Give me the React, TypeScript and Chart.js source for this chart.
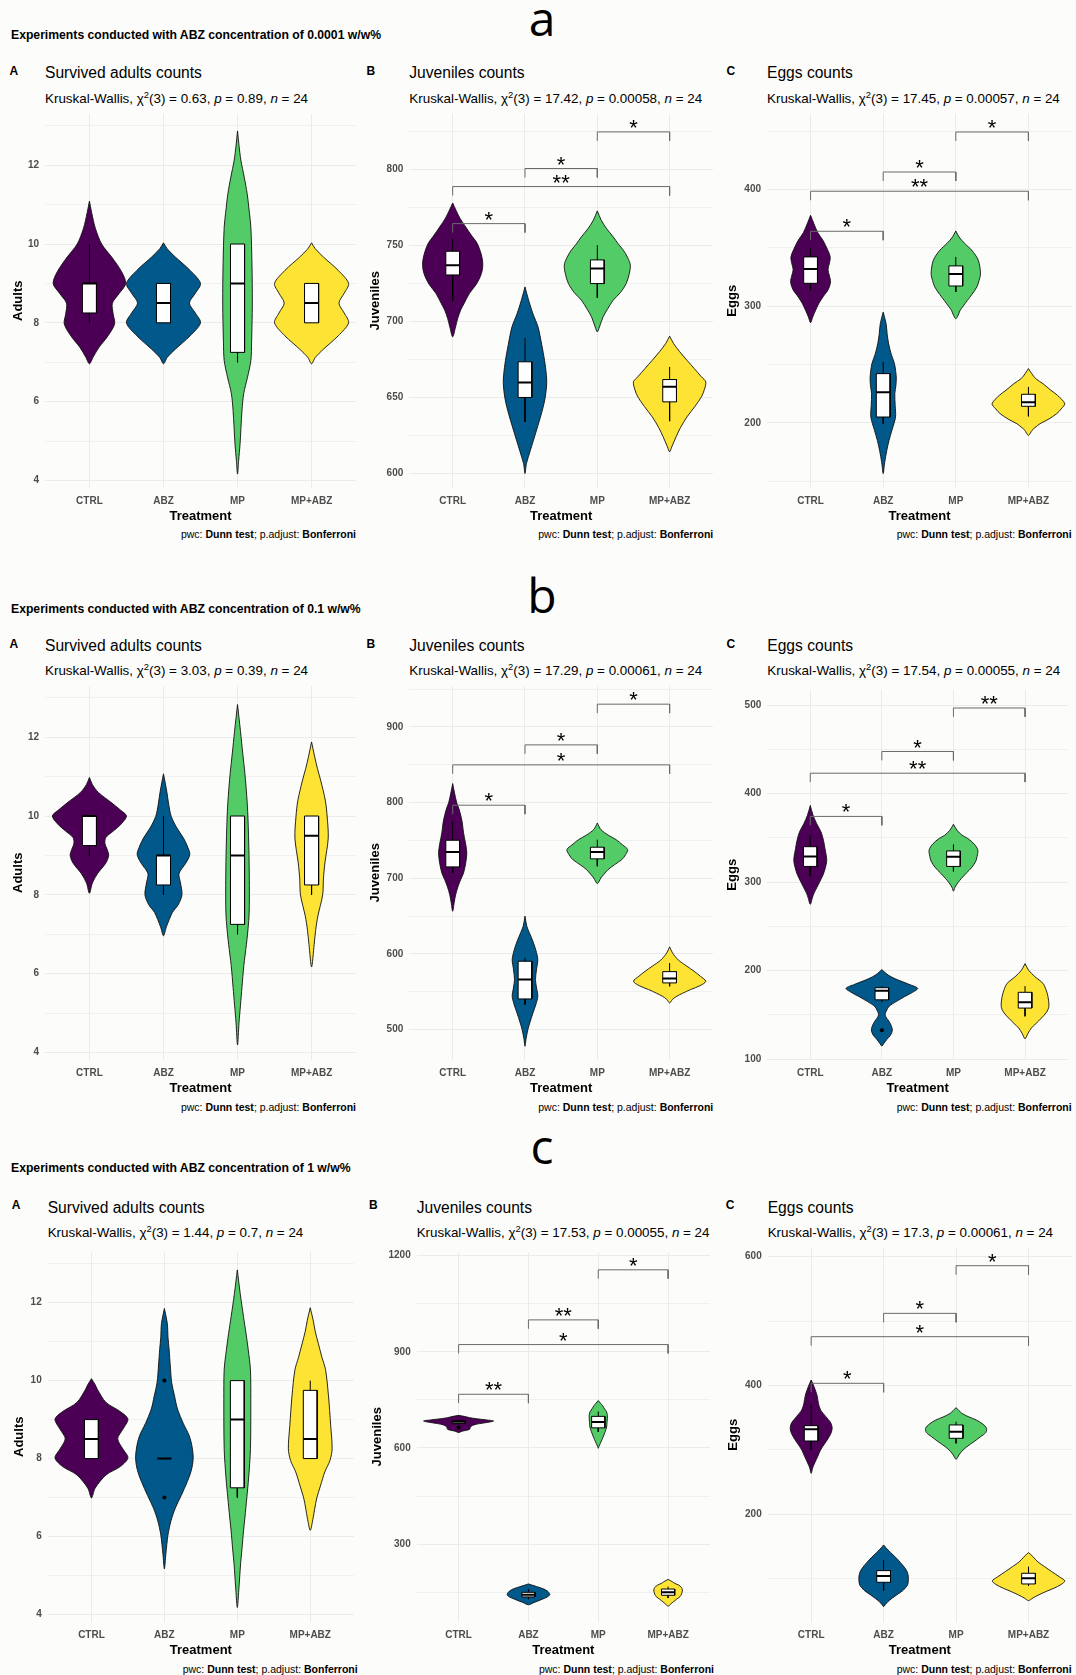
import React, { useEffect, useRef } from 'react';
import { Chart, registerables } from 'chart.js';

Chart.register(...registerables);
const SANS = "'Liberation Sans', Arial, Helvetica, sans-serif";
Chart.defaults.font.family = SANS;

// ---------------- data ----------------
const categories = ['CTRL', 'ABZ', 'MP', 'MP+ABZ'];
const groupColors = ['#4B0055', '#00588B', '#53CC67', '#FDE333'];
const concentrations = ['0.0001', '0.1', '1'];
const rowLetters = ['a', 'b', 'c'];
const panelLetters = ['A', 'B', 'C'];
const panelTitles = ['Survived adults counts', 'Juveniles counts', 'Eggs counts'];
const yTitles = ['Adults', 'Juveniles', 'Eggs'];
const kwChi = [['0.63', '17.42', '17.45'], ['3.03', '17.29', '17.54'], ['1.44', '17.53', '17.3']];
const kwP = [['0.89', '0.00058', '0.00057'], ['0.39', '0.00061', '0.00055'], ['0.7', '0.00055', '0.00061']];
const nTotal = 24;

// y tick values (major labelled, minor unlabelled)
const adultsMajor = [4, 6, 8, 10, 12];
const adultsMinor = [5, 7, 9, 11, 13];
const aJuvMajor = [600, 650, 700, 750, 800];
const aJuvMinor = [625, 675, 725, 775, 825];
const aEggMajor = [200, 300, 400];
const aEggMinor = [150, 250, 350, 450];
const bJuvMajor = [500, 600, 700, 800, 900];
const bJuvMinor = [550, 650, 750, 850, 950];
const bEggMajor = [100, 200, 300, 400, 500];
const bEggMinor = [150, 250, 350, 450];
const cJuvMajor = [300, 600, 900, 1200];
const cJuvMinor = [150, 450, 750, 1050];
const cEggMajor = [200, 400, 600];
const cEggMinor = [100, 300, 500];

// violin outlines: [value, half-width] from top tip to bottom tip, per group
const aAdultsViolins = [
  [[11.09, 0], [10.8, 0.03], [10.4, 0.08], [10.0, 0.165], [9.67, 0.3], [9.31, 0.43], [9.0, 0.49], [8.74, 0.4], [8.5, 0.31], [8.23, 0.32], [7.97, 0.34], [7.64, 0.24], [7.38, 0.13], [7.13, 0.05], [6.96, 0]],
  [[10.03, 0], [9.88, 0.05], [9.67, 0.16], [9.33, 0.36], [9.0, 0.5], [8.75, 0.43], [8.5, 0.35], [8.25, 0.43], [8.0, 0.5], [7.67, 0.36], [7.33, 0.16], [7.12, 0.05], [6.96, 0]],
  [[12.87, 0], [12.5, 0.02], [12.13, 0.045], [11.7, 0.09], [11.28, 0.13], [10.8, 0.16], [10.43, 0.18], [9.5, 0.195], [8.5, 0.2], [7.5, 0.19], [7.04, 0.18], [6.62, 0.135], [6.2, 0.083], [5.77, 0.06], [4.92, 0.034], [4.5, 0.015], [4.16, 0]],
  [[10.03, 0], [9.88, 0.05], [9.67, 0.16], [9.33, 0.36], [9.0, 0.5], [8.75, 0.44], [8.5, 0.37], [8.25, 0.44], [8.0, 0.5], [7.67, 0.36], [7.33, 0.16], [7.12, 0.05], [6.96, 0]],
];
const aJuvViolins = [
  [[778, 0], [773.2, 0.046], [768, 0.1], [762.2, 0.18], [756, 0.27], [751.3, 0.34], [745, 0.39], [739.2, 0.415], [734, 0.41], [729.3, 0.38], [724, 0.32], [718.3, 0.23], [712, 0.16], [707.4, 0.11], [702, 0.07], [696.4, 0.04], [689.8, 0]],
  [[722.7, 0], [714, 0.05], [705, 0.11], [696.4, 0.18], [685, 0.23], [674.4, 0.27], [665, 0.295], [659.1, 0.3], [650, 0.28], [641.5, 0.24], [628.4, 0.16], [615.2, 0.075], [606.4, 0.02], [599.8, 0]],
  [[772.8, 0], [766.6, 0.055], [761, 0.13], [755.7, 0.22], [751, 0.29], [746.9, 0.36], [742, 0.42], [737, 0.457], [731, 0.44], [725, 0.4], [719, 0.32], [714, 0.22], [708, 0.14], [703, 0.08], [696.4, 0.03], [693.1, 0]],
  [[690.3, 0], [685.4, 0.055], [680, 0.14], [674.4, 0.24], [669, 0.34], [663.5, 0.44], [660.2, 0.5], [655, 0.48], [650.3, 0.44], [644, 0.35], [637.1, 0.24], [630, 0.15], [624, 0.09], [617.4, 0.03], [614.1, 0]],
];
const aEggViolins = [
  [[378, 0], [370.9, 0.045], [363, 0.1], [356.6, 0.17], [349, 0.23], [342.3, 0.27], [337, 0.26], [331.4, 0.24], [326, 0.26], [320.9, 0.275], [314, 0.24], [308, 0.17], [302, 0.11], [296.6, 0.07], [290.9, 0.03], [286, 0]],
  [[295, 0], [285.1, 0.04], [276, 0.055], [268, 0.075], [259, 0.11], [250.9, 0.155], [239.4, 0.18], [232, 0.175], [225.1, 0.16], [215, 0.165], [205.1, 0.17], [193.7, 0.12], [185, 0.08], [176.6, 0.05], [166, 0.02], [156.6, 0]],
  [[364.6, 0], [359.4, 0.045], [354, 0.12], [348, 0.22], [339.4, 0.31], [328, 0.34], [322, 0.32], [316.6, 0.29], [310, 0.22], [305.1, 0.16], [300, 0.1], [296.6, 0.06], [292, 0.03], [289.4, 0]],
  [[246.6, 0], [242.3, 0.045], [238, 0.1], [233.7, 0.2], [228, 0.31], [223.7, 0.4], [216.6, 0.5], [212, 0.45], [208, 0.39], [203, 0.27], [199.4, 0.16], [196, 0.09], [193.7, 0.05], [189.4, 0]],
];
const bAdultsViolins = [
  [[10.98, 0], [10.8, 0.04], [10.6, 0.12], [10.35, 0.29], [10.15, 0.42], [10.0, 0.5], [9.8, 0.43], [9.63, 0.33], [9.45, 0.22], [9.3, 0.21], [9.15, 0.24], [9.0, 0.26], [8.8, 0.22], [8.54, 0.11], [8.3, 0.04], [8.04, 0]],
  [[11.07, 0], [10.62, 0.045], [10.3, 0.07], [9.99, 0.105], [9.7, 0.18], [9.44, 0.27], [9.2, 0.33], [9.02, 0.355], [8.8, 0.3], [8.54, 0.21], [8.3, 0.23], [8.0, 0.25], [7.75, 0.2], [7.55, 0.12], [7.19, 0.04], [6.96, 0]],
  [[12.83, 0], [12.15, 0.04], [11.6, 0.07], [11.07, 0.1], [10.5, 0.125], [10.0, 0.14], [9.0, 0.155], [8.0, 0.16], [7.46, 0.155], [7.0, 0.135], [6.74, 0.12], [6.2, 0.085], [5.65, 0.06], [5.2, 0.04], [4.75, 0.02], [4.19, 0]],
  [[11.88, 0], [11.52, 0.04], [11.2, 0.08], [10.89, 0.125], [10.4, 0.185], [10.0, 0.21], [9.44, 0.225], [8.81, 0.18], [8.4, 0.16], [8.0, 0.15], [7.46, 0.085], [7.1, 0.055], [6.74, 0.035], [6.17, 0]],
];
const bJuvViolins = [
  [[825.1, 0], [812.8, 0.025], [800, 0.055], [790.7, 0.09], [775, 0.13], [759.9, 0.15], [745, 0.18], [733.5, 0.195], [720, 0.18], [707, 0.15], [698, 0.11], [689.4, 0.075], [678, 0.04], [667.4, 0.02], [656.4, 0]],
  [[649.8, 0], [636.6, 0.025], [628, 0.06], [619, 0.1], [605, 0.15], [592.5, 0.177], [580, 0.16], [566.1, 0.145], [555, 0.16], [544.1, 0.177], [533, 0.15], [522, 0.11], [510, 0.07], [500, 0.04], [488, 0.015], [478, 0]],
  [[773, 0], [764.3, 0.05], [757, 0.15], [751, 0.26], [744, 0.35], [737.9, 0.42], [731, 0.39], [724.7, 0.34], [718, 0.24], [711.5, 0.15], [705, 0.09], [700.4, 0.05], [693, 0]],
  [[609.3, 0], [601.3, 0.04], [592, 0.12], [583.7, 0.24], [577, 0.34], [570.5, 0.425], [563.9, 0.5], [558, 0.42], [552.9, 0.29], [548, 0.18], [544.1, 0.1], [540, 0.04], [535.2, 0]],
];
const bEggViolins = [
  [[386.5, 0], [375.3, 0.04], [366, 0.09], [356.7, 0.15], [347, 0.185], [338.1, 0.205], [325.1, 0.23], [316, 0.21], [308.4, 0.18], [300, 0.13], [293.5, 0.09], [287, 0.05], [282.3, 0.03], [274.9, 0]],
  [[201.2, 0], [196.7, 0.06], [193, 0.13], [189.3, 0.23], [184.5, 0.38], [180, 0.5], [175.5, 0.43], [170.7, 0.32], [165, 0.2], [159.6, 0.1], [154, 0.06], [150.2, 0.045], [146, 0.07], [142.8, 0.1], [137, 0.135], [132.7, 0.147], [127, 0.12], [122.3, 0.07], [118, 0.03], [114.9, 0]],
  [[365.3, 0], [358.6, 0.05], [353, 0.12], [349.3, 0.2], [343, 0.29], [336.3, 0.34], [329, 0.33], [323.3, 0.31], [316, 0.25], [310.2, 0.18], [304, 0.11], [299.1, 0.06], [294, 0.02], [289.8, 0]],
  [[207.9, 0], [200.5, 0.05], [193, 0.14], [185.6, 0.25], [178, 0.295], [170.7, 0.32], [159.6, 0.333], [153, 0.3], [146.5, 0.23], [140, 0.15], [135.3, 0.09], [129, 0.04], [123, 0]],
];
const cAdultsViolins = [
  [[10.05, 0], [9.9, 0.05], [9.78, 0.08], [9.44, 0.2], [9.2, 0.4], [9.01, 0.5], [8.75, 0.43], [8.51, 0.36], [8.25, 0.43], [8.02, 0.5], [7.8, 0.4], [7.58, 0.2], [7.24, 0.05], [6.99, 0]],
  [[11.85, 0], [11.47, 0.04], [11.1, 0.05], [10.79, 0.065], [10.4, 0.08], [9.95, 0.1], [9.6, 0.14], [9.27, 0.18], [8.9, 0.26], [8.59, 0.34], [8.3, 0.38], [8.0, 0.395], [7.7, 0.37], [7.41, 0.315], [7.05, 0.23], [6.73, 0.15], [6.4, 0.09], [6.05, 0.05], [5.55, 0.02], [5.17, 0]],
  [[12.84, 0], [12.23, 0.04], [11.64, 0.085], [11.2, 0.12], [10.79, 0.15], [10.28, 0.18], [9.52, 0.185], [8.25, 0.18], [7.5, 0.155], [6.99, 0.13], [6.5, 0.105], [6.14, 0.085], [5.7, 0.065], [5.3, 0.045], [4.62, 0.02], [4.18, 0]],
  [[11.87, 0], [11.55, 0.04], [11.25, 0.07], [10.96, 0.11], [10.6, 0.16], [10.28, 0.21], [9.61, 0.25], [8.85, 0.28], [8.25, 0.3], [7.95, 0.27], [7.66, 0.2], [7.3, 0.14], [6.99, 0.09], [6.7, 0.06], [6.48, 0.04], [6.16, 0]],
];
const cJuvViolins = [
  [[701.7, 0], [698.6, 0.08], [694.5, 0.16], [691.4, 0.25], [688, 0.38], [684.2, 0.5], [680, 0.42], [676, 0.3], [672, 0.22], [667.8, 0.18], [663, 0.165], [658.5, 0.16], [655, 0.11], [652.4, 0.05], [648.3, 0]],
  [[175.7, 0], [167.4, 0.12], [160, 0.22], [152, 0.28], [146, 0.3], [141.8, 0.305], [135, 0.27], [128.4, 0.2], [122, 0.13], [118.1, 0.08], [110.9, 0]],
  [[747.9, 0], [740, 0.03], [732.5, 0.06], [722, 0.09], [712, 0.12], [701, 0.13], [691.4, 0.13], [680, 0.125], [665.7, 0.12], [652, 0.1], [640, 0.08], [627, 0.055], [614.4, 0.03], [605, 0.01], [599, 0]],
  [[190, 0], [182.8, 0.06], [177, 0.1], [172.5, 0.15], [165, 0.19], [157.1, 0.205], [150, 0.2], [143, 0.19], [136.2, 0.17], [128, 0.12], [120.8, 0.08], [113, 0.035], [105.8, 0]],
];
const cEggViolins = [
  [[408.5, 0], [398, 0.04], [385, 0.08], [372.3, 0.1], [362, 0.13], [352, 0.2], [342, 0.27], [333.5, 0.29], [325, 0.27], [317, 0.23], [310.2, 0.19], [300, 0.13], [289.6, 0.09], [280, 0.05], [272, 0.02], [263.6, 0]],
  [[152.4, 0], [144.6, 0.06], [137, 0.13], [129.1, 0.2], [120, 0.27], [112, 0.32], [104, 0.34], [96, 0.34], [90.3, 0.33], [82, 0.27], [74.8, 0.18], [69, 0.11], [64.4, 0.06], [60, 0.025], [56.7, 0]],
  [[365.6, 0], [356.8, 0.08], [351, 0.18], [346.4, 0.28], [340, 0.37], [333.5, 0.42], [327, 0.41], [320.6, 0.34], [313, 0.25], [305, 0.15], [298, 0.08], [292.1, 0.04], [285.4, 0]],
  [[140.5, 0], [134.3, 0.06], [126, 0.13], [118.8, 0.22], [111, 0.32], [103.3, 0.42], [96.6, 0.5], [91, 0.45], [85.2, 0.35], [80, 0.24], [74.8, 0.14], [70, 0.06], [66, 0]],
];

// box plots: [lower whisker, Q1, median, Q3, upper whisker]
const aAdultsBoxes = [[8, 8.25, 9, 9, 10], [8, 8, 8.5, 9, 9], [7, 7.25, 9, 10, 10], [8, 8, 8.5, 9, 9]];
const aJuvBoxes = [[713.3, 730.6, 737, 746.2, 754.6], [633.8, 649.9, 659.8, 673.4, 689.2], [715.5, 724.9, 734.8, 740.5, 750.2], [634.3, 647, 656.9, 661.7, 670]];
const aEggBoxes = [[313.7, 319.7, 332, 342.3, 349.4], [199.4, 205.1, 226.3, 242.3, 252.3], [312.3, 317.4, 327.7, 334.6, 342.3], [205.7, 214.3, 217.7, 224.6, 230.9]];
const bAdultsBoxes = [[9, 9.25, 10, 10, 10], [8, 8.25, 9, 9, 10], [7, 7.25, 9, 10, 10], [8, 8.25, 9.5, 10, 10]];
const bJuvBoxes = [[707, 715, 734.8, 750.2, 775.3], [533, 540.5, 566.1, 590.3, 594.7], [715.9, 725.6, 734.8, 741, 751], [557.3, 561.7, 567.4, 576.6, 588]];
const bEggBoxes = [[306.5, 317.7, 328.8, 340, 353], [165.1, 167, 177.4, 180.7, 182.6], [312.1, 317.7, 328.5, 335.2, 342.6], [148.4, 157.7, 164.4, 175.5, 182.6]];
const cAdultsBoxes = [[8, 8, 8.5, 9, 9], [8, 8, 8, 8, 8], [7, 7.25, 9, 10, 10], [8, 8, 8.5, 9.75, 10]];
const cJuvBoxes = [[674, 676, 682, 685.3, 688], [128.4, 135.3, 142.1, 149.7, 159.9], [650.3, 662.7, 681.2, 698.6, 714], [131.9, 140.4, 150.2, 159.9, 167.4]];
const cEggBoxes = [[299.9, 313.8, 331.9, 337.6, 372.3], [81.5, 94.4, 104.3, 112.5, 129.1], [310.2, 318, 328.3, 338.7, 343.9], [88.8, 91.8, 100.6, 108.4, 118.8]];

// outlier points: [group, value]
const bEggOutliers = [[2, 132.7]];
const cAdultsOutliers = [[2, 10], [2, 7]];
const cJuvOutliers = [[1, 663.7]];

// pairwise comparisons: [group1, group2, bracket y, label]
const aJuvBrackets = [[1, 2, 764.4, '*'], [1, 4, 788.8, '**'], [2, 3, 800.7, '*'], [3, 4, 824.8, '*']];
const aEggBrackets = [[1, 2, 364.3, '*'], [1, 4, 398.6, '**'], [2, 3, 415.1, '*'], [3, 4, 449.4, '*']];
const bJuvBrackets = [[1, 2, 796.5, '*'], [1, 4, 849.8, '*'], [2, 3, 876.2, '*'], [3, 4, 930, '*']];
const bEggBrackets = [[1, 2, 374.2, '*'], [1, 4, 423, '**'], [2, 3, 447.5, '*'], [3, 4, 496.7, '**']];
const cJuvBrackets = [[1, 2, 767.5, '**'], [1, 4, 922.6, '*'], [2, 3, 999.6, '**'], [3, 4, 1155.8, '*']];
const cEggBrackets = [[1, 2, 403.4, '*'], [1, 4, 475.8, '*'], [2, 3, 512, '*'], [3, 4, 586, '*']];

// ---------------- layout ----------------
const rowLayout = [
  { T: 72.7, headerY: 35.3, letterBase: 36.5, cols: [
    { plotLeft: 45, plotRight: 356, yTitleX: 18.3, labelX: 13.9 },
    { plotLeft: 409.3, plotRight: 713.3, yTitleX: 375.7, labelX: 370.8 },
    { plotLeft: 767, plotRight: 1071.7, yTitleX: 732.7, labelX: 730.9 }] },
  { T: 645.4, headerY: 609, letterBase: 614, cols: [
    { plotLeft: 45, plotRight: 356, yTitleX: 18.3, labelX: 13.9 },
    { plotLeft: 409.3, plotRight: 713.3, yTitleX: 375.7, labelX: 370.8 },
    { plotLeft: 767.3, plotRight: 1071.7, yTitleX: 732.7, labelX: 730.9 }] },
  { T: 1207, headerY: 1168, letterBase: 1165, cols: [
    { plotLeft: 47.7, plotRight: 357.7, yTitleX: 20, labelX: 16 },
    { plotLeft: 416.7, plotRight: 714, yTitleX: 377.3, labelX: 373.3 },
    { plotLeft: 767.7, plotRight: 1071.7, yTitleX: 733.3, labelX: 730 }] },
];

const panels = [
  { row: 0, col: 0, violins: aAdultsViolins, boxes: aAdultsBoxes, outliers: [], brackets: [], major: adultsMajor, minor: adultsMinor, yMin: 3.82, yMax: 13.3 },
  { row: 0, col: 1, violins: aJuvViolins, boxes: aJuvBoxes, outliers: [], brackets: aJuvBrackets, major: aJuvMajor, minor: aJuvMinor, yMin: 590.6, yMax: 836.6 },
  { row: 0, col: 2, violins: aEggViolins, boxes: aEggBoxes, outliers: [], brackets: aEggBrackets, major: aEggMajor, minor: aEggMinor, yMin: 144.7, yMax: 464.8 },
  { row: 1, col: 0, violins: bAdultsViolins, boxes: bAdultsBoxes, outliers: [], brackets: [], major: adultsMajor, minor: adultsMinor, yMin: 3.82, yMax: 13.3 },
  { row: 1, col: 1, violins: bJuvViolins, boxes: bJuvBoxes, outliers: [], brackets: bJuvBrackets, major: bJuvMajor, minor: bJuvMinor, yMin: 460.5, yMax: 954 },
  { row: 1, col: 2, violins: bEggViolins, boxes: bEggBoxes, outliers: bEggOutliers, brackets: bEggBrackets, major: bEggMajor, minor: bEggMinor, yMin: 99.6, yMax: 517 },
  { row: 2, col: 0, violins: cAdultsViolins, boxes: cAdultsBoxes, outliers: cAdultsOutliers, brackets: [], major: adultsMajor, minor: adultsMinor, yMin: 3.82, yMax: 13.3 },
  { row: 2, col: 1, violins: cJuvViolins, boxes: cJuvBoxes, outliers: cJuvOutliers, brackets: cJuvBrackets, major: cJuvMajor, minor: cJuvMinor, yMin: 58.6, yMax: 1211.4 },
  { row: 2, col: 2, violins: cEggViolins, boxes: cEggBoxes, outliers: [], brackets: cEggBrackets, major: cEggMajor, minor: cEggMinor, yMin: 33.5, yMax: 613.5 },
];

const PLOT_TOP_OFF = 41;
const PLOT_H = 373.5;
const CANVAS_H = 410;
const BOX_HW = 0.095;
const BG = '#fcfcfa';

function geometry(p: any) {
  const rl = rowLayout[p.row];
  const cl = rl.cols[p.col];
  const left = Math.round(cl.yTitleX - 7.8);
  const top = Math.round(rl.T + PLOT_TOP_OFF);
  const width = Math.round(cl.plotRight - left);
  return { left, top, width, height: CANVAS_H, yAxisW: cl.plotLeft - left, xAxisH: CANVAS_H - PLOT_H };
}

function buildDatasets(p: any) {
  const ds: any[] = [];
  p.violins.forEach((prof: number[][], i: number) => {
    const g = i + 1;
    const right = prof.map(([v, w]) => ({ x: g + w, y: v }));
    const left = prof.slice(0, -1).reverse().map(([v, w]) => ({ x: g - w, y: v }));
    ds.push({ data: [...right, ...left], borderColor: '#111', borderWidth: 0.9, backgroundColor: groupColors[i], fill: 'shape', tension: 0.3, pointRadius: 0, order: 10 });
  });
  const wh: any[] = [];
  p.boxes.forEach(([lo, q1, , q3, hi]: number[], i: number) => {
    const g = i + 1;
    wh.push({ x: g, y: q3 }, { x: g, y: hi }, { x: g, y: null }, { x: g, y: q1 }, { x: g, y: lo }, { x: g, y: null });
  });
  ds.push({ data: wh, borderColor: '#000', borderWidth: 1, pointRadius: 0, tension: 0, fill: false, spanGaps: false, order: 6 });
  p.boxes.forEach(([, q1, , q3]: number[], i: number) => {
    const g = i + 1;
    ds.push({
      data: [{ x: g - BOX_HW, y: q1 }, { x: g - BOX_HW, y: q3 }, { x: g + BOX_HW, y: q3 }, { x: g + BOX_HW, y: q1 }, { x: g - BOX_HW, y: q1 }],
      backgroundColor: '#ffffff', borderColor: '#000', borderWidth: 1, fill: 'shape', tension: 0, pointRadius: 0, order: 5,
    });
  });
  const md: any[] = [];
  p.boxes.forEach(([, , med]: number[], i: number) => {
    const g = i + 1;
    md.push({ x: g - BOX_HW, y: med }, { x: g + BOX_HW, y: med }, { x: g, y: null });
  });
  ds.push({ data: md, borderColor: '#000', borderWidth: 2, pointRadius: 0, tension: 0, fill: false, spanGaps: false, order: 4 });
  if (p.outliers.length) {
    ds.push({ data: p.outliers.map(([g, v]: number[]) => ({ x: g, y: v })), showLine: false, pointRadius: 2, pointBackgroundColor: '#000', pointBorderColor: '#000', pointBorderWidth: 0, order: 3 });
  }
  if (p.brackets.length) {
    const tip = 0.024 * (p.yMax - p.yMin);
    const br: any[] = [];
    p.brackets.forEach(([g1, g2, v]: any[]) => {
      br.push({ x: g1, y: v - tip }, { x: g1, y: v }, { x: g2, y: v }, { x: g2, y: v - tip }, { x: g2, y: null });
    });
    ds.push({ data: br, borderColor: '#6a6a6a', borderWidth: 1, pointRadius: 0, tension: 0, fill: false, spanGaps: false, order: 2 });
  }
  return ds;
}

function sigLabelPlugin(brackets: any[]) {
  return {
    id: 'sigLabels',
    afterDatasetsDraw(chart: any) {
      const { ctx, scales } = chart;
      const x = scales.x;
      const y = scales.y;
      ctx.save();
      ctx.font = `22px ${SANS}`;
      ctx.fillStyle = '#000';
      ctx.textAlign = 'center';
      ctx.textBaseline = 'alphabetic';
      brackets.forEach(([g1, g2, v, lab]) => {
        const m = ctx.measureText(lab);
        const cx = (x.getPixelForValue(g1) + x.getPixelForValue(g2)) / 2;
        const cy = y.getPixelForValue(v) - 8;
        const base = cy + (m.actualBoundingBoxAscent - m.actualBoundingBoxDescent) / 2;
        ctx.fillText(lab, cx, base);
      });
      ctx.restore();
    },
  };
}

function PanelChart({ p }: { p: any }) {
  const ref = useRef<HTMLCanvasElement | null>(null);
  const g = geometry(p);
  useEffect(() => {
    if (!ref.current) return;
    const tickVals = [...p.major, ...p.minor].sort((a: number, b: number) => a - b);
    const chart = new Chart(ref.current, {
      type: 'line',
      data: { datasets: buildDatasets(p) },
      options: {
        animation: false,
        responsive: false,
        devicePixelRatio: 1,
        events: [],
        layout: { padding: 0 },
        plugins: { legend: { display: false }, tooltip: { enabled: false } },
        scales: {
          x: {
            type: 'linear', min: 0.4, max: 4.6,
            afterBuildTicks: (s: any) => { s.ticks = [1, 2, 3, 4].map((v) => ({ value: v })); },
            afterFit: (s: any) => { s.height = g.xAxisH; s.paddingLeft = 0; s.paddingRight = 0; s.paddingTop = 0; s.paddingBottom = 0; },
            ticks: { autoSkip: false, maxRotation: 0, padding: 8, color: '#4d4d4d', font: { size: 10, weight: 'bold' }, callback: (v: any) => categories[Math.round(v) - 1] },
            grid: { color: '#ebebeb', lineWidth: 1, drawTicks: false },
            border: { display: false },
            title: { display: true, text: 'Treatment', color: '#000', padding: 0, font: { size: 13, weight: 'bold', lineHeight: 1.2 } },
          },
          y: {
            type: 'linear', min: p.yMin, max: p.yMax,
            afterBuildTicks: (s: any) => { s.ticks = tickVals.map((v: number) => ({ value: v })); },
            afterFit: (s: any) => { s.width = g.yAxisW; s.paddingTop = 0; s.paddingBottom = 0; s.paddingLeft = 0; s.paddingRight = 0; },
            ticks: { autoSkip: false, padding: 6, color: '#4d4d4d', font: { size: 10, weight: 'bold' }, callback: (v: any) => (p.major.includes(v) ? String(v) : '') },
            grid: { color: '#ebebeb', lineWidth: (c: any) => (c.tick && p.major.includes(c.tick.value) ? 1 : 0.7), drawTicks: false },
            border: { display: false },
            title: { display: true, text: yTitles[p.col], color: '#000', padding: 0, font: { size: 13, weight: 'bold', lineHeight: 1.2 } },
          },
        },
      } as any,
      plugins: [sigLabelPlugin(p.brackets)],
    });
    return () => chart.destroy();
  }, [p]);
  return (
    <canvas ref={ref} width={g.width} height={g.height}
      style={{ position: 'absolute', left: g.left, top: g.top, width: g.width, height: g.height }} />
  );
}

function Txt({ x, base, size, bold = false, align = 'left', family = SANS, asc = 0.8465, children }: any) {
  const width = 700;
  let left = x;
  if (align === 'right') left = x - width;
  if (align === 'center') left = x - width / 2;
  return (
    <div style={{ position: 'absolute', left, top: base - asc * size, width, textAlign: align, fontFamily: family, fontSize: size, lineHeight: `${size}px`, fontWeight: bold ? 'bold' : 'normal', whiteSpace: 'nowrap', color: '#000' }}>
      {children}
    </div>
  );
}

const supStyle: any = { fontSize: '0.7em', verticalAlign: '0.5em', lineHeight: 0 };

export default function App() {
  return (
    <div style={{ position: 'relative', width: 1076, height: 1675, background: BG, overflow: 'hidden' }}>
      <style>{`body{margin:0;background:${BG};}`}</style>
      {rowLayout.map((rl, r) => (
        <React.Fragment key={'row' + r}>
          <Txt x={542} base={rl.letterBase} size={48} align="center" family="'Open Sans', 'Noto Sans', sans-serif" asc={0.888}>{rowLetters[r]}</Txt>
          <Txt x={11} base={rl.headerY + 4.4} size={12.2} bold>{`Experiments conducted with ABZ concentration of ${concentrations[r]} w/w%`}</Txt>
          {rl.cols.map((c, ci) => (
            <React.Fragment key={'t' + r + ci}>
              <Txt x={c.labelX} base={rl.T + 2.3} size={12} bold align="center">{panelLetters[ci]}</Txt>
              <Txt x={c.plotLeft} base={rl.T + 5.8} size={15.6}>{panelTitles[ci]}</Txt>
              <Txt x={c.plotLeft} base={rl.T + 30.2} size={13.4}>
                Kruskal-Wallis, χ<sup style={supStyle}>2</sup>(3) = {kwChi[r][ci]}, <i>p</i> = {kwP[r][ci]}, <i>n</i> = {nTotal}
              </Txt>
              <Txt x={c.plotRight} base={rl.T + 465.6} size={10.5} align="right">
                pwc: <b>Dunn test</b>; p.adjust: <b>Bonferroni</b>
              </Txt>
            </React.Fragment>
          ))}
        </React.Fragment>
      ))}
      {panels.map((p, i) => <PanelChart key={'p' + i} p={p} />)}
    </div>
  );
}
